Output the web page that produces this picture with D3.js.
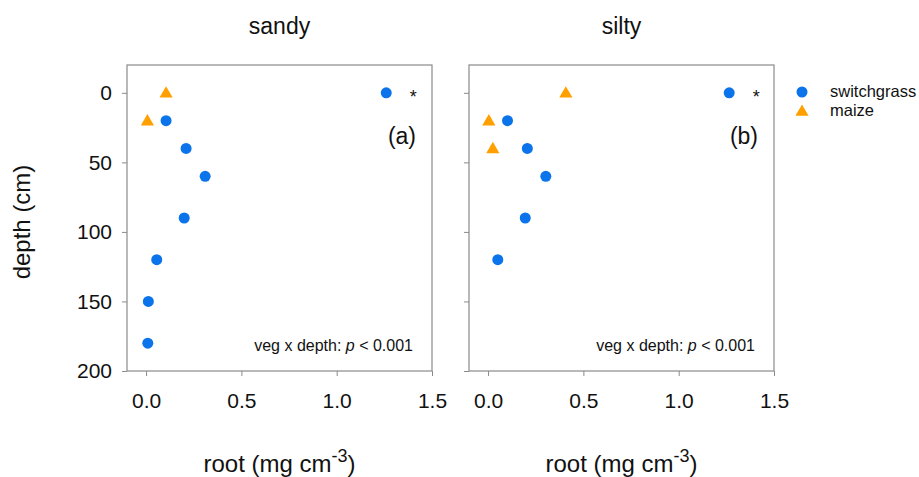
<!DOCTYPE html>
<html>
<head>
<meta charset="utf-8">
<script src="https://cdn.jsdelivr.net/npm/d3@7"></script>
<style>
  body { margin: 0; background: #fff; }
  text { font-family: Arial, "Liberation Sans", sans-serif; fill: #111; }
</style>
</head>
<body>
<svg id="chart" width="919" height="477"></svg>
<script>
// data: root density (mg cm-3) by depth (cm)
const panels = ["sandy", "silty"];
const panelTags = ["(a)", "(b)"];
const depthTicks = [0, 50, 100, 150, 200];
const rootTicks = [0.0, 0.5, 1.0, 1.5];

const sandySwitchDepth = [0, 20, 40, 60, 90, 120, 150, 180];
const sandySwitchRoot  = [1.26, 0.105, 0.21, 0.31, 0.20, 0.056, 0.012, 0.009];
const sandyMaizeDepth  = [0, 20];
const sandyMaizeRoot   = [0.105, 0.007];

const siltySwitchDepth = [0, 20, 40, 60, 90, 120];
const siltySwitchRoot  = [1.265, 0.102, 0.206, 0.303, 0.195, 0.051];
const siltyMaizeDepth  = [0, 20, 40];
const siltyMaizeRoot   = [0.408, 0.004, 0.025];

const statText = "veg x depth: ";

const blue = "#0b74ea", orange = "#ffa000", frame = "#8a8a8a";

const svg = d3.select("#chart");

// panel frames
const boxes = [
  { left: 127, right: 432, top: 65, bottom: 371 },
  { left: 469, right: 774, top: 65, bottom: 371 }
];

const series = [
  { sw: [sandySwitchDepth, sandySwitchRoot], mz: [sandyMaizeDepth, sandyMaizeRoot] },
  { sw: [siltySwitchDepth, siltySwitchRoot], mz: [siltyMaizeDepth, siltyMaizeRoot] }
];

const zip = (d, r) => d.map((v, i) => ({ depth: v, root: r[i] }));
const tri = d3.symbol().type(d3.symbolTriangle).size(75);

boxes.forEach((b, i) => {
  const x = d3.scaleLinear().domain([-0.1, 1.5]).range([b.left, b.right]);
  const y = d3.scaleLinear().domain([-20, 200]).range([b.top, b.bottom]);
  const g = svg.append("g");

  g.append("rect")
    .attr("x", b.left).attr("y", b.top)
    .attr("width", b.right - b.left).attr("height", b.bottom - b.top)
    .attr("fill", "none").attr("stroke", frame).attr("stroke-width", 1.2);

  // x axis
  const xa = g.append("g").attr("transform", `translate(0,${b.bottom})`)
    .call(d3.axisBottom(x).tickValues(rootTicks).tickFormat(d3.format(".1f"))
      .tickSize(5).tickPadding(17));
  xa.select(".domain").remove();
  xa.selectAll("line").attr("stroke", frame);
  xa.selectAll("text").style("font-size", "21px").attr("fill", "#111")
    .attr("font-family", "Arial, 'Liberation Sans', sans-serif");

  // y axis
  const ya = g.append("g").attr("transform", `translate(${b.left},0)`)
    .call(d3.axisLeft(y).tickValues(depthTicks).tickSize(5).tickPadding(10)
      .tickFormat(i === 0 ? d3.format("d") : () => ""));
  ya.select(".domain").remove();
  ya.selectAll("line").attr("stroke", frame);
  ya.selectAll("text").style("font-size", "21px").attr("fill", "#111")
    .attr("font-family", "Arial, 'Liberation Sans', sans-serif");

  // title
  g.append("text")
    .attr("x", (b.left + b.right) / 2).attr("y", 34)
    .attr("text-anchor", "middle").style("font-size", "23px")
    .text(panels[i]);

  // x label with superscript
  const xl = g.append("text")
    .attr("x", (b.left + b.right) / 2).attr("y", 472)
    .attr("text-anchor", "middle").style("font-size", "24px");
  xl.append("tspan").text("root (mg cm");
  xl.append("tspan").attr("dy", -10).style("font-size", "18px").text("-3");
  xl.append("tspan").attr("dy", 10).text(")");

  // points
  g.selectAll("circle.sw").data(zip(...series[i].sw)).join("circle")
    .attr("class", "sw")
    .attr("cx", d => x(d.root)).attr("cy", d => y(d.depth))
    .attr("r", 5.5).attr("fill", blue);

  g.selectAll("path.mz").data(zip(...series[i].mz)).join("path")
    .attr("class", "mz")
    .attr("d", tri)
    .attr("transform", d => `translate(${x(d.root)},${y(d.depth) + 1})`)
    .attr("fill", orange);

  // significance star beside the surface switchgrass point
  const top = zip(...series[i].sw)[0];
  g.append("text")
    .attr("x", x(top.root) + 27).attr("y", y(top.depth) + 10)
    .attr("text-anchor", "middle").style("font-size", "18px")
    .text("*");

  // panel tag
  g.append("text")
    .attr("x", b.right - 16).attr("y", 144)
    .attr("text-anchor", "end").style("font-size", "23px")
    .text(panelTags[i]);

  // stats note
  const st = g.append("text")
    .attr("x", b.right - 19).attr("y", 351)
    .attr("text-anchor", "end").style("font-size", "16px");
  st.append("tspan").text(statText);
  st.append("tspan").style("font-style", "italic").text("p");
  st.append("tspan").text(" < 0.001");
});

// y label
svg.append("text")
  .attr("transform", "translate(30,222) rotate(-90)")
  .attr("text-anchor", "middle").style("font-size", "24px")
  .text("depth (cm)");

// legend
const legend = svg.append("g");
legend.append("circle").attr("cx", 802).attr("cy", 92).attr("r", 5.5).attr("fill", blue);
legend.append("path").attr("d", tri).attr("transform", "translate(802,112)").attr("fill", orange);
legend.append("text").attr("x", 830).attr("y", 97).style("font-size", "16.5px").text("switchgrass");
legend.append("text").attr("x", 830).attr("y", 116).style("font-size", "16.5px").text("maize");
</script>
</body>
</html>
